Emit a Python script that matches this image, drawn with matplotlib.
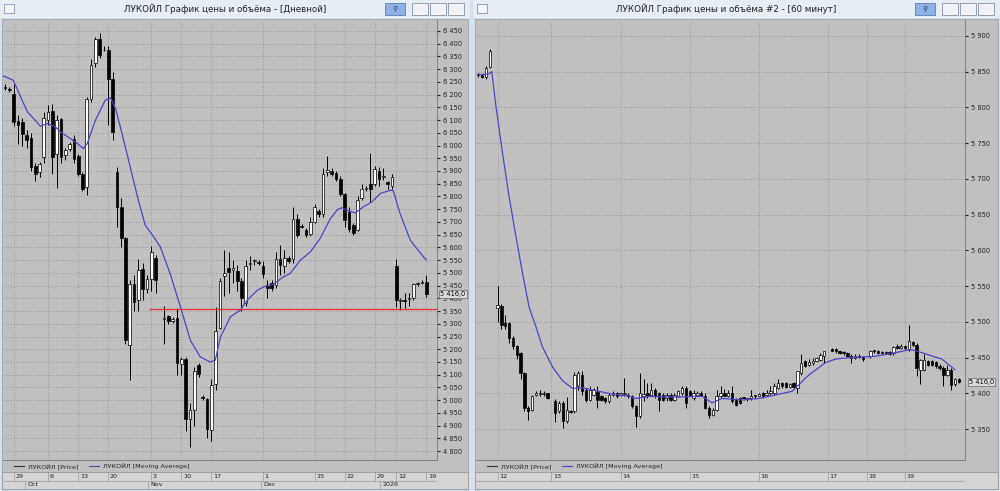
import matplotlib
matplotlib.use("Agg")
import matplotlib.pyplot as plt
from matplotlib.patches import Rectangle
from matplotlib.lines import Line2D
from matplotlib.ticker import FixedLocator, FuncFormatter

# ---------------- daily chart (left) ----------------
l_slot = list(range(0, 36)) + list(range(37, 99))
l_open = [6230, 6222, 6204, 6097, 6093, 6040, 6030, 5920, 5896, 5955, 6100, 6136, 5968, 6103, 5962, 5988,
          6027, 5958, 5890, 5838, 6184, 6324, 6420, 6377, 6374, 6263, 5896, 5759, 5635, 5215, 5458, 5392,
          5517, 5438, 5477, 5560,
          5320, 5330, 5312, 5322, 5143, 5163, 4925, 4960, 5140, 5012, 5004, 4884, 5064, 5285, 5487, 5520,
          5512, 5509, 5467, 5382, 5533, 5545, 5543, 5525, 5448, 5460, 5454, 5555, 5525, 5557, 5556, 5713,
          5683, 5667, 5652, 5700, 5744, 5733, 5895, 5900, 5893, 5870, 5810, 5740, 5687, 5670, 5792, 5828,
          5850, 5850, 5900, 5875, 5855, 5843, 5525, 5390, 5395, 5398, 5400, 5456, 5460, 5466]
l_high = [6240, 6228, 6240, 6120, 6110, 6060, 6050, 5930, 5935, 6130, 6160, 6165, 6120, 6110, 5990, 6015,
          6040, 5965, 5895, 6190, 6340, 6425, 6440, 6390, 6390, 6290, 5915, 5795, 5640, 5470, 5490, 5555,
          5540, 5490, 5605, 5570,
          5370, 5335, 5325, 5360, 5170, 5170, 4990, 5130, 5145, 5020, 5010, 5085, 5365, 5480, 5590, 5580,
          5550, 5530, 5480, 5550, 5565, 5555, 5550, 5545, 5470, 5470, 5580, 5610, 5590, 5565, 5760, 5730,
          5690, 5675, 5720, 5770, 5750, 5910, 5960, 5910, 5900, 5880, 5815, 5760, 5695, 5800, 5850, 5840,
          5970, 5920, 5915, 5910, 5860, 5890, 5555, 5400, 5420, 5420, 5462, 5465, 5470, 5490]
l_low = [6220, 6212, 6075, 6005, 6000, 5990, 5900, 5860, 5875, 5930, 6080, 5890, 5835, 5930, 5945, 5980,
         5930, 5880, 5820, 5805, 6170, 6310, 6345, 6370, 6080, 6020, 5680, 5600, 5220, 5078, 5350, 5350,
         5395, 5420, 5430, 5420,
         5220, 5300, 5305, 5100, 5100, 4880, 4815, 4900, 5090, 5000, 4850, 4840, 5040, 5280, 5410, 5420,
         5460, 5430, 5350, 5370, 5510, 5530, 5530, 5480, 5400, 5430, 5440, 5490, 5500, 5540, 5540, 5640,
         5675, 5640, 5645, 5695, 5720, 5720, 5880, 5880, 5860, 5800, 5680, 5660, 5650, 5665, 5785, 5820,
         5780, 5840, 5840, 5865, 5830, 5830, 5365, 5355, 5360, 5368, 5395, 5450, 5455, 5405]
l_close = [6225, 6218, 6093, 6080, 6047, 6023, 5916, 5887, 5926, 6110, 6132, 5955, 6100, 5955, 5982, 6007,
           5949, 5890, 5831, 6184, 6315, 6420, 6355, 6375, 6263, 6053, 5759, 5635, 5235, 5458, 5386, 5510,
           5438, 5477, 5582, 5470,
           5324, 5310, 5320, 5146, 5163, 4925, 4960, 5115, 5102, 5008, 4886, 5058, 5272, 5467, 5500, 5504,
           5518, 5467, 5402, 5525, 5540, 5550, 5540, 5495, 5442, 5440, 5555, 5530, 5558, 5548, 5713, 5648,
           5680, 5650, 5700, 5760, 5731, 5890, 5903, 5887, 5870, 5808, 5707, 5674, 5658, 5787, 5831, 5832,
           5830, 5908, 5868, 5880, 5850, 5877, 5394, 5393, 5388, 5402, 5458, 5460, 5466, 5416]
l_ma_x = [-1.1, 0.1, 1.9, 3.6, 5.2, 7.0, 8.2, 9.8, 11.7, 12.9, 15.2, 16.8, 18.2, 19.1, 21.0, 23.3, 24.5,
          25.7, 27.3, 29.1, 30.8, 32.6, 34.3, 36.1, 38.4, 40.8, 43.1, 45.4, 47.7, 48.9, 50.1, 52.4, 54.7,
          56.3, 58.7, 61.0, 62.4, 64.7, 66.3, 68.7, 71.0, 73.3, 75.7, 77.3, 78.4, 79.6, 81.5, 83.3, 85.4,
          87.3, 89.6, 90.3, 91.9, 94.3, 96.1, 98.0]
l_ma = [6276, 6270, 6256, 6191, 6132, 6099, 6076, 6086, 6073, 6053, 6027, 6008, 5988, 6008, 6099, 6178,
        6188, 6145, 6040, 5916, 5798, 5687, 5648, 5602, 5497, 5366, 5235, 5170, 5150, 5157, 5248, 5327,
        5353, 5392, 5432, 5451, 5454, 5484, 5497, 5550, 5582, 5635, 5713, 5748, 5756, 5746, 5735, 5759,
        5779, 5812, 5824, 5824, 5733, 5628, 5589, 5550]
l_level = 5357
l_level_from = 33.5
l_day_pos = [2, 10, 17, 24, 34, 41, 48, 60, 72, 79, 86, 91, 98]
l_day_lab = ["29", "6", "13", "20", "3", "10", "17", "1", "15", "22", "29", "12", "19"]
l_month_pos = [4.6, 33.3, 59.5, 87.3]
l_month_lab = ["Oct", "Nov", "Dec", "2026"]
l_yticks = list(range(4800, 6451, 50))

# ---------------- 60-minute chart (right) ----------------
r_slot = [-5, -4, -3, -2] + list(range(0, 14)) + list(range(15, 86)) + list(range(87, 96)) + list(range(97, 121))
r_ohlc = [
    (5846, 5848, 5843, 5845), (5845, 5847, 5841, 5843), (5843, 5858, 5840, 5855), (5857, 5882, 5855, 5878),
    (5520, 5550, 5500, 5523), (5522, 5525, 5490, 5496), (5498, 5510, 5490, 5494), (5498, 5500, 5470, 5478),
    (5478, 5480, 5462, 5466), (5466, 5468, 5448, 5454), (5456, 5458, 5420, 5428), (5428, 5430, 5375, 5379),
    (5379, 5382, 5363, 5375), (5377, 5398, 5375, 5396), (5398, 5403, 5396, 5400), (5399, 5405, 5397, 5401),
    (5399, 5404, 5397, 5401), (5400, 5401, 5392, 5394),
    (5389, 5392, 5360, 5372), (5375, 5390, 5372, 5387), (5387, 5389, 5352, 5361), (5361, 5395, 5359, 5377),
    (5375, 5377, 5372, 5374), (5375, 5430, 5373, 5426), (5410, 5432, 5405, 5429), (5426, 5432, 5398, 5403),
    (5405, 5407, 5388, 5391), (5391, 5410, 5389, 5405), (5398, 5407, 5396, 5405), (5402, 5410, 5380, 5391),
    (5396, 5398, 5389, 5391), (5393, 5395, 5386, 5389), (5389, 5400, 5387, 5398), (5398, 5403, 5396, 5401),
    (5400, 5402, 5394, 5396), (5398, 5400, 5396, 5399), (5399, 5422, 5396, 5400), (5398, 5400, 5394, 5396),
    (5396, 5398, 5380, 5382), (5382, 5384, 5353, 5368), (5368, 5428, 5366, 5400), (5396, 5420, 5390, 5399),
    (5400, 5415, 5394, 5396), (5398, 5415, 5396, 5405), (5405, 5408, 5394, 5396), (5400, 5402, 5375, 5391),
    (5398, 5400, 5389, 5391), (5393, 5400, 5390, 5398), (5398, 5400, 5389, 5391), (5391, 5400, 5389, 5398),
    (5397, 5405, 5395, 5403), (5400, 5410, 5398, 5407), (5407, 5410, 5380, 5387), (5403, 5405, 5396, 5398),
    (5393, 5405, 5391, 5400), (5398, 5404, 5396, 5401), (5401, 5403, 5396, 5397), (5396, 5400, 5378, 5380),
    (5380, 5382, 5366, 5370), (5370, 5379, 5368, 5377), (5377, 5405, 5375, 5396), (5396, 5410, 5394, 5400),
    (5401, 5406, 5396, 5397), (5397, 5405, 5395, 5401), (5400, 5410, 5387, 5389), (5391, 5393, 5382, 5384),
    (5393, 5395, 5385, 5387), (5393, 5395, 5391, 5393), (5392, 5394, 5390, 5393), (5393, 5405, 5391, 5396),
    (5396, 5398, 5394, 5396), (5397, 5400, 5396, 5398), (5400, 5402, 5394, 5396), (5398, 5405, 5396, 5400),
    (5400, 5410, 5398, 5403), (5400, 5415, 5398, 5410), (5408, 5420, 5406, 5414), (5414, 5416, 5408, 5410),
    (5414, 5416, 5407, 5409), (5409, 5415, 5407, 5413), (5414, 5416, 5407, 5409), (5408, 5432, 5400, 5431),
    (5428, 5455, 5426, 5442), (5445, 5447, 5437, 5439), (5440, 5448, 5438, 5444), (5442, 5450, 5440, 5446),
    (5446, 5451, 5444, 5449), (5447, 5456, 5445, 5454), (5452, 5460, 5442, 5459),
    (5462, 5464, 5459, 5460), (5462, 5464, 5457, 5459), (5459, 5460, 5455, 5457), (5458, 5460, 5454, 5456),
    (5456, 5458, 5451, 5453), (5453, 5455, 5442, 5450), (5450, 5455, 5448, 5453), (5453, 5455, 5449, 5451),
    (5451, 5453, 5446, 5448),
    (5452, 5461, 5450, 5459), (5459, 5461, 5457, 5459), (5459, 5461, 5455, 5456), (5458, 5460, 5455, 5456),
    (5458, 5460, 5455, 5456), (5458, 5460, 5454, 5455), (5456, 5467, 5454, 5465), (5467, 5469, 5462, 5464),
    (5464, 5469, 5462, 5467), (5466, 5468, 5461, 5463), (5462, 5495, 5460, 5473), (5472, 5474, 5466, 5468),
    (5468, 5470, 5425, 5435), (5433, 5448, 5413, 5447), (5433, 5455, 5431, 5447), (5445, 5447, 5438, 5440),
    (5445, 5447, 5438, 5440), (5444, 5446, 5436, 5439), (5439, 5441, 5433, 5435), (5436, 5438, 5410, 5426),
    (5426, 5440, 5424, 5433), (5433, 5435, 5405, 5412), (5413, 5422, 5411, 5420), (5420, 5421, 5415, 5416),
]
r_ma_x = [-5.2, -2.2, -1.5, -0.4, 1.3, 3.0, 4.8, 6.5, 8.2, 10.0, 11.7, 14.3, 16.9, 19.5, 22.1, 25.5, 29.0,
          33.3, 35.9, 39.4, 46.3, 53.2, 55.8, 58.4, 63.6, 68.0, 72.3, 76.6, 81.0, 85.3, 87.9, 91.3, 94.8,
          98.3, 102.6, 106.1, 107.8, 110.4, 115.6, 119.0]
r_ma = [5845, 5847, 5850, 5801, 5736, 5675, 5619, 5568, 5521, 5493, 5465, 5437, 5418, 5407, 5408, 5404,
        5400, 5397, 5393, 5396, 5395, 5396, 5387, 5393, 5391, 5393, 5398, 5403, 5426, 5443, 5448, 5450,
        5451, 5452, 5456, 5460, 5461, 5457, 5448, 5433]
r_day_pos = [0, 14, 32, 50, 68, 86, 96, 106]
r_day_lab = ["12", "13", "14", "15", "16", "17", "18", "19"]
r_yticks = list(range(5350, 5901, 50))

last_price = 5416
name = "ЛУКОЙЛ"

BG = "#c0c0c0"
FRAME = "#d6e0ec"
GRID = "#8e8e8e"
MA_C = "#4b46c8"

fig = plt.figure(figsize=(10, 4.91), dpi=100)
fig.patch.set_facecolor(FRAME)
H = 491.0


def box(x0, y0, x1, y1, fc, ec="none", lw=0.6):
    fig.patches.append(Rectangle((x0 / 1000, 1 - y1 / H), (x1 - x0) / 1000, (y1 - y0) / H,
                                 transform=fig.transFigure, facecolor=fc, edgecolor=ec, lw=lw, zorder=-5))


def spaced(v, _=None):
    return f"{int(v):,}".replace(",", " ")


def window(x0, x1, title, ax_x1):
    box(x0, 0, x1, 18, "#e6edf5")
    box(x0 + 2, 19, x1 - 2, 489, BG, ec="#9aa4b0")
    box(ax_x1, 20, x1 - 3, 461, BG)
    box(x0 + 2, 472, x1 - 2, 489, "#d4d4d4", ec="#9a9a9a")
    fig.text((x0 + x1) / 2000 - 0.01, 1 - 9 / H, title, ha="center", va="center", fontsize=6.3,
             color="#222222")
    box(x0 + 4, 4, x0 + 14, 13, "#f4f6fa", ec="#8898b0")
    box(x1 - 85, 3, x1 - 65, 15, "#8fb2e6", ec="#5a7fbf")
    fig.text((x1 - 75) / 1000, 1 - 9 / H, "⚲", ha="center", va="center", fontsize=5, color="#223366")
    for i in range(3):
        box(x1 - 58 + i * 18, 3, x1 - 42 + i * 18, 15, "#f0f2f6", ec="#8a94a4")
    # legend row
    lx = x0 + 14
    fig.lines.append(Line2D([lx / 1000, (lx + 10) / 1000], [1 - 466 / H] * 2, transform=fig.transFigure,
                            color="#333333", lw=0.8))
    fig.text((lx + 14) / 1000, 1 - 466 / H, f"{name} [Price]", fontsize=4.6, va="center", color="#222222")
    fig.lines.append(Line2D([(lx + 75) / 1000, (lx + 85) / 1000], [1 - 466 / H] * 2,
                            transform=fig.transFigure, color=MA_C, lw=0.8))
    fig.text((lx + 89) / 1000, 1 - 466 / H, f"{name} [Moving Average]", fontsize=4.6, va="center",
             color="#222222")


def candles(ax, xs, o, h, l, c, w):
    for x, oo, hh, ll, cc in zip(xs, o, h, l, c):
        ax.vlines(x, ll, hh, color="black", lw=0.7, zorder=3)
        lo, hi = min(oo, cc), max(oo, cc)
        ax.bar(x, max(hi - lo, 2), width=w, bottom=lo, color="white" if cc > oo else "black",
               edgecolor="black", lw=0.5, zorder=4)


def style_axes(ax, yticks, xpos, ylim, xlim):
    ax.set_zorder(5)
    ax.set_facecolor(BG)
    ax.set_xlim(*xlim)
    ax.set_ylim(*ylim)
    ax.yaxis.tick_right()
    ax.yaxis.set_major_locator(FixedLocator(yticks))
    ax.yaxis.set_major_formatter(FuncFormatter(spaced))
    ax.xaxis.set_major_locator(FixedLocator(xpos))
    ax.tick_params(axis="y", labelsize=4.8, length=2, pad=2, colors="#222222")
    ax.tick_params(axis="x", length=0, labelbottom=False)
    ax.grid(True, color=GRID, ls=(0, (1, 2)), lw=0.6)
    for s in ax.spines.values():
        s.set_color("#7a7a7a")
        s.set_linewidth(0.6)
    ax.spines["top"].set_visible(False)
    ax.spines["left"].set_visible(False)


def price_tag(ax, v):
    ax.text(1.008, v, spaced(v) + ",0", transform=ax.get_yaxis_transform(), fontsize=4.8, va="center",
            ha="left", bbox=dict(boxstyle="square,pad=0.15", fc="#dcdcdc", ec="#666666", lw=0.5), zorder=6)


def date_strip(rect, xlim, days, labels, months=(), month_labels=()):
    d = fig.add_axes(rect)
    d.set_zorder(5)
    d.set_xlim(*xlim)
    d.set_ylim(0, 2)
    d.axis("off")
    d.axhline(1, color="#9a9a9a", lw=0.5)
    for p, t in zip(days, labels):
        d.vlines(p, 1, 2, color="#9a9a9a", lw=0.5)
        d.text(p + 0.4, 1.5, t, fontsize=4.6, va="center", ha="left", color="#222222")
    for p, t in zip(months, month_labels):
        d.vlines(p, 0, 1, color="#9a9a9a", lw=0.5)
        d.text(p + 0.6, 0.5, t, fontsize=4.6, va="center", ha="left", color="#222222")


# ----- left window -----
window(0, 470, "ЛУКОЙЛ График цены и объёма - [Дневной]", 437)
axl = fig.add_axes([3 / 1000, 1 - 460 / H, 434 / 1000, 440 / H])
style_axes(axl, l_yticks, l_day_pos, (4765, 6493), (-0.5, 100.5))
candles(axl, l_slot, l_open, l_high, l_low, l_close, 0.62)
axl.plot(l_ma_x, l_ma, color=MA_C, lw=0.9, zorder=5)
axl.hlines(l_level, l_level_from, 100.5, color="#e03030", lw=0.9, zorder=5)
price_tag(axl, last_price)
date_strip([3 / 1000, 1 - 489 / H, 434 / 1000, 17 / H], (-0.5, 100.5), l_day_pos, l_day_lab,
           l_month_pos, l_month_lab)

# ----- right window -----
window(473, 1000, "ЛУКОЙЛ График цены и объёма #2 - [60 минут]", 965)
axr = fig.add_axes([476 / 1000, 1 - 460 / H, 489 / 1000, 440 / H])
style_axes(axr, r_yticks, r_day_pos, (5307, 5922), (-5.6, 121.6))
r_o, r_h, r_l, r_c = zip(*r_ohlc)
candles(axr, r_slot, r_o, r_h, r_l, r_c, 0.62)
axr.plot(r_ma_x, r_ma, color=MA_C, lw=0.9, zorder=5)
price_tag(axr, last_price)
date_strip([476 / 1000, 1 - 489 / H, 489 / 1000, 17 / H], (-5.6, 121.6), r_day_pos, r_day_lab)

fig.savefig("out.png", dpi=100, facecolor=fig.get_facecolor())
